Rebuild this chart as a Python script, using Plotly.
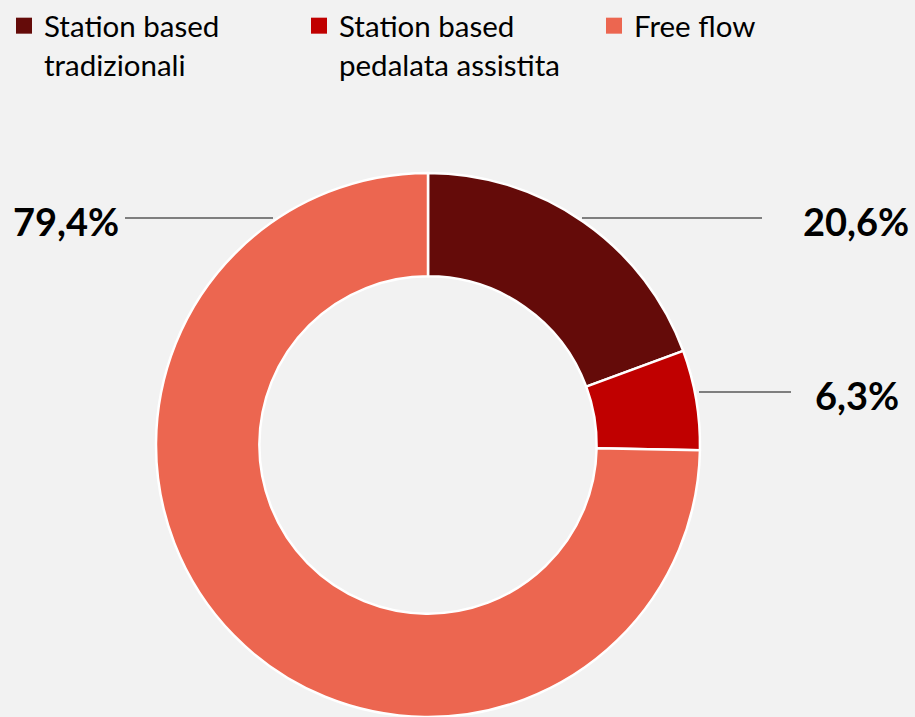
import plotly.graph_objects as go

# Shares of bike-sharing fleet (labels as shown on the original chart)
categories = ["Station based<br>tradizionali", "Station based<br>pedalata assistita", "Free flow"]
values = [20.6, 6.3, 79.4]
value_labels = ["20,6%", "6,3%", "79,4%"]
colors = ["#640b09", "#c00000", "#ec6650"]

W, H = 915, 717
BG = "#f2f2f2"


def px(x):
    return x / W


def py(y):
    return 1 - y / H


fig = go.Figure(
    go.Pie(
        labels=categories,
        values=values,
        hole=0.62,
        sort=False,
        direction="clockwise",
        rotation=0,
        textinfo="none",
        hoverinfo="label+percent",
        showlegend=False,
        marker=dict(colors=colors, line=dict(color="white", width=2.5)),
        domain=dict(x=[px(155), px(701)], y=[0, py(173)]),
    )
)

# legend-only markers so the swatches can be bigger than the pie's own
for name, color in zip(categories, colors):
    fig.add_trace(
        go.Scatter(
            x=[None], y=[None], name=name, mode="markers", hoverinfo="skip",
            marker=dict(symbol="square", size=16, color=color, line=dict(width=0)),
        )
    )

# leader lines + percentage labels: (line x0, line x1, line y, text x, text anchor)
label_spots = [
    (582, 762, 218, 911, "right"),
    (699, 791, 392, 901, "right"),
    (125, 273, 218, 11, "left"),
]
for text, (x0, x1, ly, tx, anchor) in zip(value_labels, label_spots):
    fig.add_shape(
        type="line", xref="paper", yref="paper",
        x0=px(x0), x1=px(x1), y0=py(ly), y1=py(ly),
        line=dict(color="#595959", width=1.5),
    )
    fig.add_annotation(
        x=px(tx), y=py(ly + 3), xref="paper", yref="paper",
        text=f"<b>{text}</b>", showarrow=False,
        xanchor=anchor, yanchor="middle",
        font=dict(family="Lato", size=38, color="black"),
    )

fig.update_layout(
    width=W,
    height=H,
    margin=dict(l=0, r=0, t=0, b=0),
    paper_bgcolor=BG,
    plot_bgcolor=BG,
    xaxis=dict(visible=False),
    yaxis=dict(visible=False),
    showlegend=True,
    legend=dict(
        orientation="h",
        x=px(4),
        y=1,
        xanchor="left",
        yanchor="top",
        valign="top",
        entrywidth=250,
        itemwidth=30,
        font=dict(family="Lato", size=29.5, color="black"),
        traceorder="normal",
        bgcolor="rgba(0,0,0,0)",
    ),
)

fig.write_html(
    "out.html",
    config={"displayModeBar": False},
    post_script="document.body.style.margin='0';document.body.style.background='#f2f2f2';",
)
